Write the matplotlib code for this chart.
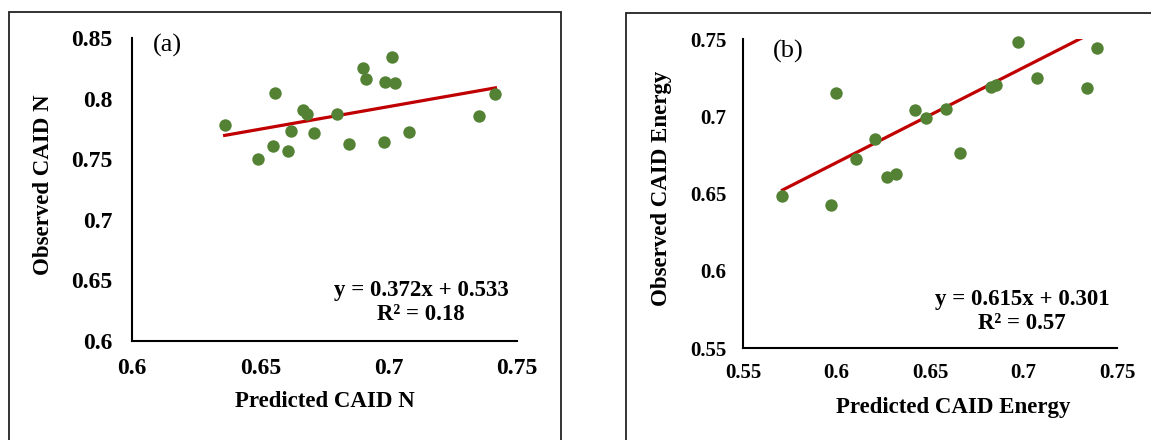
import numpy as np
import matplotlib.pyplot as plt
from matplotlib.patches import Rectangle

# ---- panel (a): CAID N ----
pred_n = [0.6361, 0.6492, 0.6549, 0.6559, 0.6608, 0.6618, 0.6668, 0.6682, 0.6709, 0.6800,
          0.6847, 0.6899, 0.6912, 0.6981, 0.6986, 0.7014, 0.7025, 0.7081, 0.7350, 0.7416]
obs_n = [0.7786, 0.7500, 0.7607, 0.8049, 0.7571, 0.7734, 0.7904, 0.7876, 0.7714, 0.7876,
         0.7626, 0.8250, 0.8159, 0.7646, 0.8135, 0.8346, 0.8129, 0.7723, 0.7860, 0.8038]
fit_n = (0.372, 0.533)
r2_n = 0.18

# ---- panel (b): CAID Energy ----
pred_e = [0.5711, 0.5969, 0.6000, 0.6103, 0.6205, 0.6268, 0.6318, 0.6421, 0.6481, 0.6584,
          0.6661, 0.6826, 0.6851, 0.6973, 0.7071, 0.7337, 0.7395]
obs_e = [0.6484, 0.6428, 0.7148, 0.6723, 0.6855, 0.6604, 0.6626, 0.7038, 0.6990, 0.7049,
         0.6760, 0.7189, 0.7200, 0.7478, 0.7249, 0.7182, 0.7443]
fit_e = (0.615, 0.301)
r2_e = 0.57

GREEN = "#548235"
RED = "#C00000"
SERIF = "Liberation Serif"

fig = plt.figure(figsize=(11.51, 4.40), dpi=100)

# outer frames around each panel (as in the source document)
fig.patches.append(Rectangle((9 / 1151, -0.1), (561 - 9) / 1151, 1.1 - 12 / 440,
                             transform=fig.transFigure, fill=False,
                             edgecolor="#222222", linewidth=1.3))
fig.patches.append(Rectangle((626 / 1151, -0.1), 0.5, 1.1 - 13 / 440,
                             transform=fig.transFigure, fill=False,
                             edgecolor="#222222", linewidth=1.3))


def panel(rect, x, y, fit, r2, xlim, ylim, xticks, yticks, xlabel, ylabel, tag,
          tick_fs, lab_fs, xlab_pos, ylab_pos, eq_pos, tag_pos, xpad, ypad):
    ax = fig.add_axes(rect)
    ax.scatter(x, y, s=80, color=GREEN, zorder=3, clip_on=False, linewidths=0)
    xs = np.array([min(x), max(x)])
    ax.plot(xs, fit[0] * xs + fit[1], color=RED, linewidth=2.3, zorder=2)
    ax.set_xlim(*xlim)
    ax.set_ylim(*ylim)
    ax.set_xticks(xticks)
    ax.set_yticks(yticks)
    ax.set_xticklabels([f"{v:g}" for v in xticks])
    ax.set_yticklabels([f"{v:g}" for v in yticks])
    for s in ("top", "right"):
        ax.spines[s].set_visible(False)
    for s in ("left", "bottom"):
        ax.spines[s].set_linewidth(1.5)
        ax.spines[s].set_color("black")
    ax.tick_params(axis="x", length=0, pad=xpad, labelsize=tick_fs)
    ax.tick_params(axis="y", length=0, pad=ypad, labelsize=tick_fs)
    for lbl in ax.get_xticklabels() + ax.get_yticklabels():
        lbl.set_fontfamily(SERIF)
        lbl.set_fontweight("bold")
    ax.set_xlabel(xlabel, fontfamily=SERIF, fontweight="bold", fontsize=lab_fs, va="center")
    ax.set_ylabel(ylabel, fontfamily=SERIF, fontweight="bold", fontsize=lab_fs, va="center")
    ax.xaxis.set_label_coords(*xlab_pos)
    ax.yaxis.set_label_coords(*ylab_pos)
    ax.text(*eq_pos, f"y = {fit[0]:.3f}x + {fit[1]:.3f}\nR² = {r2:.2f}",
            transform=ax.transAxes, ha="center", va="center", multialignment="center",
            fontfamily=SERIF, fontweight="bold", fontsize=16.5, linespacing=1.22)
    ax.text(*tag_pos, tag, transform=ax.transAxes, ha="center", va="center",
            fontfamily=SERIF, fontsize=19)
    return ax


panel([132 / 1151, 1 - 341 / 440, 385 / 1151, 303 / 440], pred_n, obs_n, fit_n, r2_n,
      (0.6, 0.75), (0.6, 0.85), [0.6, 0.65, 0.7, 0.75],
      [0.6, 0.65, 0.7, 0.75, 0.8, 0.85],
      "Predicted CAID N", "Observed CAID N", "(a)", 17, 16.5,
      (0.5, -0.201), (-0.231, 0.515), (0.751, 0.127), (0.091, 0.974), 12, 14)

panel([743 / 1151, 1 - 348 / 440, 374 / 1151, 309 / 440], pred_e, obs_e, fit_e, r2_e,
      (0.55, 0.75), (0.55, 0.75), [0.55, 0.6, 0.65, 0.7, 0.75],
      [0.55, 0.6, 0.65, 0.7, 0.75],
      "Predicted CAID Energy", "Observed CAID Energy", "(b)", 15, 16.5,
      (0.561, -0.191), (-0.217, 0.518), (0.746, 0.118), (0.12, 0.961), 11, 12)

fig.savefig("out.png", dpi=100)
